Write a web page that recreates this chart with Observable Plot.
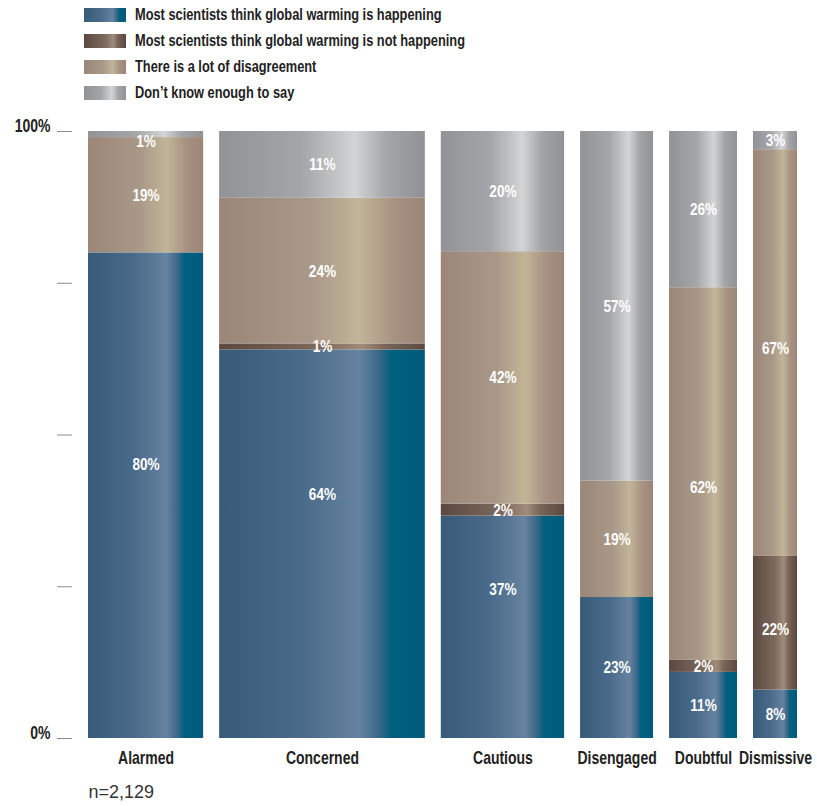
<!DOCTYPE html>
<html><head><meta charset="utf-8">
<script src="https://cdn.jsdelivr.net/npm/d3@7"></script>
<script src="https://cdn.jsdelivr.net/npm/@observablehq/plot@0.6"></script>
<style>
body{margin:0;background:#fff;font-family:"Liberation Sans",Arial,sans-serif;}
#legend{position:relative;height:110px;width:817px;}
.row{position:absolute;left:84px;height:26px;display:flex;align-items:center;white-space:nowrap;}
.sw{width:42px;height:14px;margin-right:9px;flex:none;}
.lab{font-weight:bold;font-size:16px;color:#222;display:inline-block;transform:scaleX(0.8);transform-origin:left center;}
#chart svg{display:block;}
</style></head><body>
<div id="legend"></div><div id="chart"></div>
<script>
// ---- data ----
const segments = ["Alarmed", "Concerned", "Cautious", "Disengaged", "Doubtful", "Dismissive"];
const segmentShares = [18.3, 32.7, 19.6, 11.6, 10.8, 7.0];
const responses = [
  "Most scientists think global warming is happening",
  "Most scientists think global warming is not happening",
  "There is a lot of disagreement",
  "Don’t know enough to say"
];
const happening    = [80, 64, 37, 23, 11, 8];
const notHappening = [0, 1, 2, 0, 2, 22];
const disagreement = [19, 24, 42, 19, 62, 67];
const dontKnow     = [1, 11, 20, 57, 26, 3];
const sampleNote = "n=2,129";
const yTicks = [0, 0.25, 0.5, 0.75, 1];
const yLabelTicks = [0, 1];

// ---- styles ----
const gradients = [
  {id: "gBlue",  stops: [[0, "#385b7a"], [0.40, "#4a6a89"], [0.68, "#6583a0"], [0.77, "#40698a"], [0.84, "#00607f"], [1, "#005b7c"]]},
  {id: "gBrown", stops: [[0, "#5b4941"], [0.50, "#7d6a5d"], [0.70, "#a08b7b"], [0.80, "#7a6659"], [1, "#5a4840"]]},
  {id: "gBeige", stops: [[0, "#9b8677"], [0.45, "#a99888"], [0.68, "#c1b598"], [0.85, "#a79282"], [1, "#9a8577"]]},
  {id: "gGray",  stops: [[0, "#929397"], [0.40, "#a4a5a8"], [0.66, "#d3d4d6"], [0.82, "#a3a4a7"], [1, "#919296"]]}
];
// label nudges (percentage points, + = up) for hand-placed labels, per response row
const labelNudge = [
  [5.1, 8.2, 6.3, 0, 0, 0],
  [0, 0, 0, 0, 0, -1.0],
  [0, 0, 0, 0, -2.3, 0.7],
  [-1.2, 0, 0, 0, 0, 0]
];
const FONT = '"Liberation Sans",Arial,sans-serif';
const CONDENSE = 0.8;
const gap = 2.54; // spacing between bars, in share units

// ---- build tables ----
const series = [happening, notHappening, disagreement, dontKnow];
const rows = [];
const labels = [];
const segRows = [];
let acc = 0;
segments.forEach((s, i) => {
  const x1 = acc, x2 = acc + segmentShares[i], xm = (x1 + x2) / 2;
  segRows.push({segment: s, xm});
  const sum = d3.sum(series, v => v[i]);
  let cum = 0;
  responses.forEach((r, j) => {
    const v = series[j][i];
    rows.push({segment: s, response: r, value: v, x1, x2, xm});
    if (v > 0) labels.push({text: v + "%", xm, y: (cum + v / 2) / sum + labelNudge[j][i] / 100});
    cum += v;
  });
  acc = x2 + gap;
});
const total = acc - gap;

// ---- legend ----
const legend = document.getElementById("legend");
responses.forEach((r, j) => {
  const g = gradients[j];
  const row = document.createElement("div");
  row.className = "row";
  row.style.top = (2 + j * 26) + "px";
  const sw = document.createElement("div");
  sw.className = "sw";
  sw.style.background = "linear-gradient(to right," + g.stops.map(([o, c]) => c + " " + (o * 100) + "%").join(",") + ")";
  const lab = document.createElement("span");
  lab.className = "lab";
  lab.textContent = r;
  row.append(sw, lab);
  legend.append(row);
});

// ---- chart ----
const plot = Plot.plot({
  width: 817, height: 696,
  marginLeft: 88, marginRight: 20, marginTop: 21, marginBottom: 68,
  style: {fontFamily: FONT, background: "white", overflow: "visible"},
  x: {domain: [0, total], axis: null},
  y: {domain: [0, 1], axis: null},
  color: {domain: responses, range: gradients.map(g => `url(#${g.id})`)},
  marks: [
    Plot.axisY(yTicks, {anchor: "left", tickSize: 15, dx: -16, tickFormat: () => "", stroke: "#8c8c8c", label: null}),
    Plot.axisY(yLabelTicks, {anchor: "left", tickSize: 0, tickPadding: 38, dy: -5, tickFormat: d => (d * 100) + "%", fontSize: 17.5, fontWeight: "bold", fill: "#222", label: null}),
    Plot.rectY(rows, {x1: "x1", x2: "x2", y: "value", fill: "response", order: responses, offset: "normalize"}),
    Plot.text(labels, {x: "xm", y: "y", text: "text", fill: "white", fontSize: 17, fontWeight: "bold"}),
    Plot.text(segRows, {x: "xm", y: () => 0, text: "segment", dy: 20, fontSize: 17.5, fontWeight: "bold", fill: "#222"}),
    Plot.text([sampleNote], {x: () => 0, y: () => 0, text: d => d, dy: 54, textAnchor: "start", fontSize: 18, fill: "#333", style: "letter-spacing:1px"})
  ]
});
const defs = d3.select(plot).insert("defs", ":first-child");
gradients.forEach(g => {
  const lg = defs.append("linearGradient").attr("id", g.id).attr("x1", 0).attr("x2", 1).attr("y1", 0).attr("y2", 0);
  g.stops.forEach(([o, c]) => lg.append("stop").attr("offset", o).attr("stop-color", c));
});
// condensed look: squeeze bold texts horizontally around their anchor
d3.select(plot).selectAll("text").each(function () {
  if (this.textContent === sampleNote) return;
  const t = this.getAttribute("transform") || "";
  this.setAttribute("transform", t + ` scale(${CONDENSE},1)`);
});
document.getElementById("chart").append(plot);
</script>
</body></html>
